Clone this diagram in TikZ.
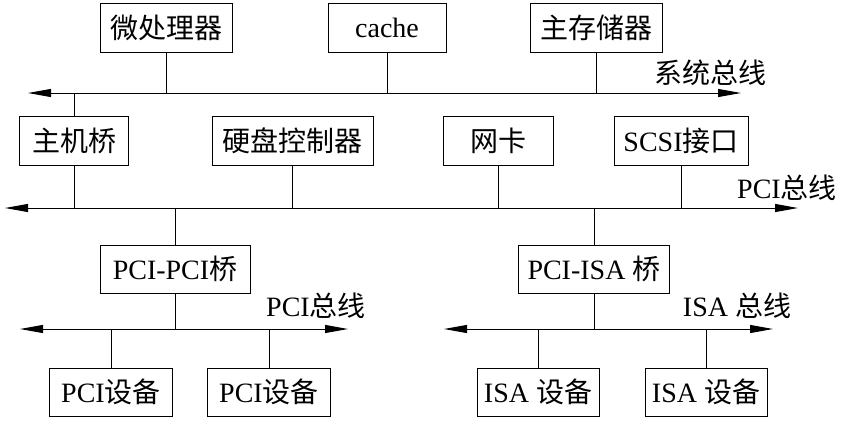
\documentclass[tikz,border=0pt]{standalone}
\usepackage{fontspec}
\setmainfont{Liberation Serif}
\newfontfamily\cjk{Noto Sans CJK SC}
\usetikzlibrary{arrows.meta}
\begin{document}
\begin{tikzpicture}[x=1pt,y=-1pt,
  box/.style={draw,line width=1pt,inner sep=0pt,minimum height=49pt,font=\fontsize{28pt}{30pt}\selectfont},
  lbl/.style={inner sep=0pt,font=\fontsize{28pt}{30pt}\selectfont},
  conn/.style={line width=1pt},
  bus/.style={line width=1pt,{Triangle[length=23pt,width=8pt]}-{Triangle[length=23pt,width=8pt]}}]
\useasboundingbox (0,0) rectangle (842,421);
% system bus
\coordinate (sysL) at (28,93);
\coordinate (sysR) at (741,93);
\coordinate (pciL) at (5,208);
\coordinate (pciR) at (798,208);
\coordinate (lbL) at (20,329);
\coordinate (lbR) at (348,329);
\coordinate (rbL) at (444,329);
\coordinate (rbR) at (773,329);
% top boxes
\node[box,minimum width=132pt] (mp) at (166.5,27.5) {\cjk 微处理器};
\node[box,minimum width=118pt] (ca) at (387,27.5) {cache};
\node[box,minimum width=132pt] (mem) at (596,27.5) {\cjk 主存储器};
% second row
\node[box,minimum width=109pt] (hb) at (74,140.5) {\cjk 主机桥};
\node[box,minimum width=161pt] (hd) at (292.5,140.5) {\cjk 硬盘控制器};
\node[box,minimum width=110pt] (nic) at (498,140.5) {\cjk 网卡};
\node[box,minimum width=134pt] (scsi) at (681,140.5) {SCSI{\cjk 接口}};
% bridges
\node[box,minimum width=150pt,minimum height=48pt] (ppb) at (175,269) {PCI-PCI{\cjk 桥}};
\node[box,minimum width=151pt,minimum height=48pt] (pib) at (594,269) {PCI-ISA {\cjk 桥}};
% devices
\node[box,minimum width=123pt,minimum height=48pt] (pd1) at (111,392) {PCI{\cjk 设备}};
\node[box,minimum width=123pt,minimum height=48pt] (pd2) at (269,392) {PCI{\cjk 设备}};
\node[box,minimum width=122pt,minimum height=48pt] (id1) at (538,392) {ISA {\cjk 设备}};
\node[box,minimum width=122pt,minimum height=48pt] (id2) at (706,392) {ISA {\cjk 设备}};
% labels
\node[lbl] (l1) at (710,73) {\cjk 系统总线};
\node[lbl] (l2) at (787,188) {PCI{\cjk 总线}};
\node[lbl] (l3) at (316,306) {PCI{\cjk 总线}};
\node[lbl] (l4) at (737,306) {ISA {\cjk 总线}};
% buses
\draw[bus] (sysL) -- (sysR);
\draw[bus] (pciL) -- (pciR);
\draw[bus] (lbL) -- (lbR);
\draw[bus] (rbL) -- (rbR);
% connectors
\draw[conn] (mp) -- (mp |- sysL);
\draw[conn] (ca) -- (ca |- sysL);
\draw[conn] (mem) -- (mem |- sysL);
\draw[conn] (hb) -- (hb |- sysL);
\draw[conn] (hb) -- (hb |- pciL);
\draw[conn] (hd) -- (hd |- pciL);
\draw[conn] (nic) -- (nic |- pciL);
\draw[conn] (scsi) -- (scsi |- pciL);
\draw[conn] (ppb) -- (ppb |- pciL);
\draw[conn] (ppb) -- (ppb |- lbL);
\draw[conn] (pib) -- (pib |- pciL);
\draw[conn] (pib) -- (pib |- rbL);
\draw[conn] (pd1) -- (pd1 |- lbL);
\draw[conn] (pd2) -- (pd2 |- lbL);
\draw[conn] (id1) -- (id1 |- rbL);
\draw[conn] (id2) -- (id2 |- rbL);
\end{tikzpicture}
\end{document}
